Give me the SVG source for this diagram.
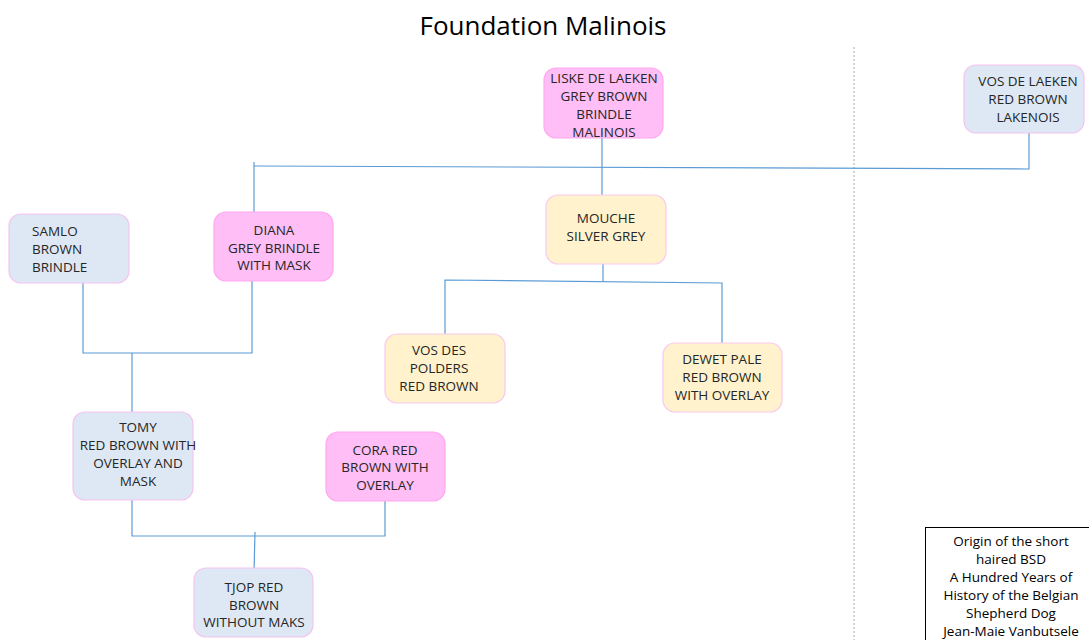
<svg xmlns="http://www.w3.org/2000/svg" width="1089" height="640" viewBox="0 0 1089 640">
<style>
.node rect{stroke-width:1.2}
.pink rect{fill:#FFBEF5;stroke:#FFA8F0}
.blue rect{fill:#DEE8F4;stroke:#F6C3F0}
.yellow rect{fill:#FFF2CC;stroke:#F9C9F0}
text{font-family:"Open Sans","Liberation Sans",sans-serif;font-size:13.5px;fill:#262626;text-anchor:middle}
.conn{stroke:#5B9BD5;stroke-width:1.2;fill:none}
.title{font-size:26px;fill:#000}
.ref text{font-size:13.5px;fill:#000}
</style>
<rect width="1089" height="640" fill="#fff"/>
<text class="title" x="543" y="35">Foundation Malinois</text>
<line x1="854" y1="47" x2="854" y2="640" stroke="#A6A6A6" stroke-width="1" stroke-dasharray="2,2"/>
<g id="connectors" class="conn">
<path d="M602 138V195"/>
<path d="M254 162V222"/>
<path d="M254 166L1029 169V133"/>
<path d="M603 264V282"/>
<path d="M445 339V280L722 283V343"/>
<path d="M83 283V353H252V281"/>
<path d="M132 353V412"/>
<path d="M132 500V536H385V501"/>
<path d="M255 532L254 572"/>
</g>
<g id="liske" class="node pink"><rect x="544" y="68" width="119" height="70" rx="12"/>
<text x="604" y="83">LISKE DE LAEKEN</text><text x="604" y="101">GREY BROWN</text><text x="604" y="119">BRINDLE</text><text x="604" y="137">MALINOIS</text></g>
<g id="vosdelaeken" class="node blue"><rect x="964" y="65" width="120" height="68" rx="12"/>
<text x="1028" y="86">VOS DE LAEKEN</text><text x="1028" y="104">RED BROWN</text><text x="1028" y="122">LAKENOIS</text></g>
<g id="samlo" class="node blue"><rect x="9" y="214" width="120" height="69" rx="12"/>
<text x="32" y="236" style="text-anchor:start">SAMLO</text><text x="32" y="254" style="text-anchor:start">BROWN</text><text x="32" y="272" style="text-anchor:start">BRINDLE</text></g>
<g id="diana" class="node pink"><rect x="214" y="212" width="119" height="69" rx="12"/>
<text x="274" y="235">DIANA</text><text x="274" y="253">GREY BRINDLE</text><text x="274" y="270">WITH MASK</text></g>
<g id="mouche" class="node yellow"><rect x="546" y="195" width="120" height="69" rx="12"/>
<text x="606" y="223">MOUCHE</text><text x="606" y="241">SILVER GREY</text></g>
<g id="vosdespolders" class="node yellow"><rect x="385" y="334" width="120" height="69" rx="12"/>
<text x="439" y="355">VOS DES</text><text x="439" y="373">POLDERS</text><text x="439" y="391">RED BROWN</text></g>
<g id="dewet" class="node yellow"><rect x="663" y="343" width="119" height="69" rx="12"/>
<text x="722" y="364">DEWET PALE</text><text x="722" y="382">RED BROWN</text><text x="722" y="400">WITH OVERLAY</text></g>
<g id="tomy" class="node blue"><rect x="73" y="412" width="120" height="88" rx="12"/>
<text x="138" y="432">TOMY</text><text x="138" y="450">RED BROWN WITH</text><text x="138" y="468">OVERLAY AND</text><text x="138" y="486">MASK</text></g>
<g id="cora" class="node pink"><rect x="326" y="432" width="119" height="69" rx="12"/>
<text x="385" y="455">CORA RED</text><text x="385" y="472">BROWN WITH</text><text x="385" y="490">OVERLAY</text></g>
<g id="tjop" class="node blue"><rect x="194" y="568" width="119" height="69" rx="12"/>
<text x="254" y="592">TJOP RED</text><text x="254" y="610">BROWN</text><text x="254" y="627">WITHOUT MAKS</text></g>
<g id="reference" class="ref"><rect x="925.5" y="527.5" width="170" height="120" fill="#fff" stroke="#000" stroke-width="1"/>
<text x="1011" y="546">Origin of the short</text><text x="1011" y="564">haired BSD</text><text x="1011" y="582">A Hundred Years of</text><text x="1011" y="600">History of the Belgian</text><text x="1011" y="618">Shepherd  Dog</text><text x="1011" y="636">Jean-Maie Vanbutsele</text></g>
</svg>
